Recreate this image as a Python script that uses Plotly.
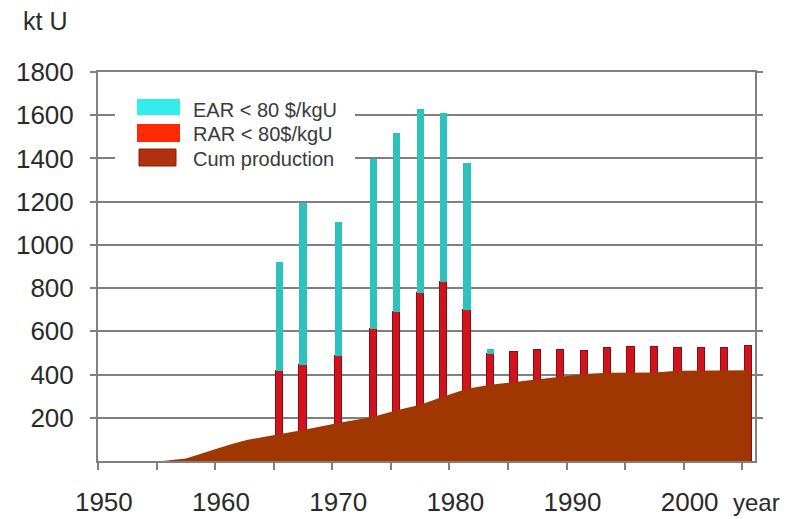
import plotly.graph_objects as go

# ---- data ----
bar_years = [1965, 1967, 1970, 1973, 1975, 1977, 1979, 1981, 1983, 1985, 1987,
             1989, 1991, 1993, 1995, 1997, 1999, 2001, 2003, 2005]
rar = [415, 445, 487, 612, 690, 779, 828, 700, 495, 504, 512,
       512, 507, 522, 526, 526, 523, 523, 523, 533]
ear = [505, 750, 617, 786, 828, 849, 780, 680, 25, 0, 0,
       0, 0, 0, 0, 0, 0, 0, 0, 0]

cum_years = [1949.5, 1955, 1957, 1958, 1959.7, 1961, 1962.2, 1963.5, 1964.6, 1967,
             1970, 1973, 1975, 1977, 1979, 1981, 1983, 1985, 1987, 1989, 1991,
             1993, 1995, 1997, 1999, 2001, 2003, 2005.2]
cum_prod = [0, 0, 12, 28, 58, 80, 97, 110, 120, 144,
            176, 205, 235, 260, 298, 334, 353, 365, 378, 390, 403,
            408, 410, 410, 418, 419, 420, 420]

x_tick_years = [1950, 1960, 1970, 1980, 1990, 2000]
x_tick_labels = ["1950", "1960", "1970", "1980", "1990", "2000"]
minor_ticks = [1949.5, 1954.5, 1959.5, 1964.5, 1969.5, 1974.5, 1979.5,
               1984.5, 1989.5, 1994.5, 1999.5, 2004.5]
y_ticks = [200, 400, 600, 800, 1000, 1200, 1400, 1600, 1800]

legend_names = ["EAR < 80 $/kgU", "RAR < 80$/kgU", "Cum production"]

# ---- styling ----
OFF = 8                      # page body margin of the html page
W, H = 790 - OFF, 519 - OFF
L, R, T, B = 90, 35, 64, 58
PW, PH = W - L - R, H - T - B
GRID = "#808080"
TXT = "#2a2a2a"
FONT = "Liberation Sans, Arial, sans-serif"


def px(xr):
    return (xr - OFF - L) / PW


def py(yr):
    return (H - B - (yr - OFF)) / PH


fig = go.Figure()
fig.add_trace(go.Bar(x=bar_years, y=rar, width=0.62, name=legend_names[1],
                     marker=dict(color="#D0141E", line=dict(color="#8E0A14", width=1)),
                     showlegend=False))
fig.add_trace(go.Bar(x=bar_years, y=ear, width=0.62, name=legend_names[0],
                     marker=dict(color="#2EC2BE", line=dict(width=0)),
                     showlegend=False))
fig.add_trace(go.Scatter(x=cum_years, y=cum_prod, fill="tozeroy", mode="lines",
                         name=legend_names[2],
                         line=dict(color="#A03600", width=0),
                         fillcolor="#A03600", showlegend=False))

# manual legend (big swatches like the original)
shapes = [
    dict(type="rect", xref="paper", yref="paper", x0=px(115), x1=px(355),
         y0=py(180), y1=py(86), fillcolor="white", line=dict(width=0), layer="above"),
    dict(type="rect", xref="paper", yref="paper", x0=px(137), x1=px(180),
         y0=py(115), y1=py(99), fillcolor="#33ECEC", line=dict(width=0), layer="above"),
    dict(type="rect", xref="paper", yref="paper", x0=px(137), x1=px(180),
         y0=py(142), y1=py(124), fillcolor="#FF2A00", line=dict(width=0), layer="above"),
    dict(type="rect", xref="paper", yref="paper", x0=px(139), x1=px(176),
         y0=py(166), y1=py(149), fillcolor="#B03010",
         line=dict(width=1, color="#8A2000"), layer="above"),
]
annotations = []
for name, yc in zip(legend_names, [110, 134, 158.5]):
    annotations.append(dict(text=name, xref="paper", yref="paper", x=px(191), y=py(yc),
                            xanchor="left", yanchor="middle", showarrow=False,
                            font=dict(size=20, color="#3a3a3a", family=FONT)))
annotations.append(dict(text="kt U", xref="paper", yref="paper", x=px(21), y=py(21),
                        xanchor="left", yanchor="middle", showarrow=False,
                        font=dict(size=25, color=TXT, family=FONT)))
annotations.append(dict(text="year", xref="paper", yref="paper", x=px(731), y=py(502),
                        xanchor="left", yanchor="middle", showarrow=False,
                        font=dict(size=24, color=TXT, family=FONT)))

fig.update_layout(
    width=W, height=H,
    margin=dict(l=L, r=R, t=T, b=B, autoexpand=False),
    barmode="stack",
    bargap=0,
    plot_bgcolor="white", paper_bgcolor="white",
    font=dict(family=FONT, color=TXT),
    shapes=shapes,
    annotations=annotations,
    showlegend=False,
)
fig.update_xaxes(
    range=[1949.5, 2005.58], automargin=False,
    tickmode="array", tickvals=x_tick_years, ticktext=x_tick_labels,
    ticks="", ticklabelstandoff=17,
    tickfont=dict(size=26, color=TXT, family=FONT),
    showgrid=False, zeroline=False,
    showline=True, linecolor=GRID, linewidth=2, mirror=True,
    minor=dict(tickmode="array", tickvals=minor_ticks, ticks="outside",
               ticklen=7, tickwidth=1.5, tickcolor=GRID, showgrid=False),
)
fig.update_yaxes(
    range=[0, 1800], automargin=False,
    tickmode="array", tickvals=y_ticks,
    ticks="outside", ticklen=6, tickwidth=2, tickcolor=GRID,
    ticklabelstandoff=11,
    tickfont=dict(size=26, color=TXT, family=FONT),
    showgrid=True, gridcolor=GRID, gridwidth=2,
    zeroline=False,
    showline=True, linecolor=GRID, linewidth=2, mirror="ticks",
)

fig.write_html("out.html")
